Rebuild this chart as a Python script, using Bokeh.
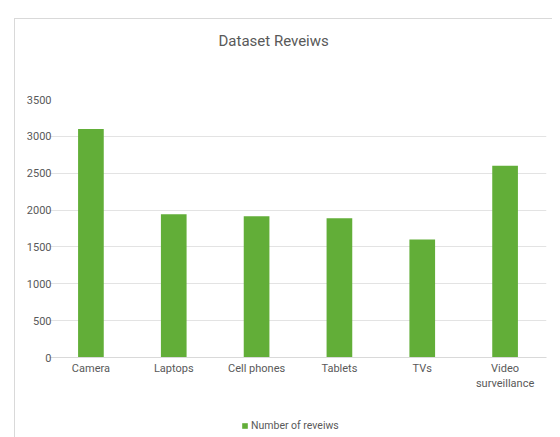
from bokeh.plotting import figure
from bokeh.layouts import column
from bokeh.models import ColumnDataSource, Legend, LegendItem, FactorRange, Title, Range1d
from bokeh.embed import file_html
from bokeh.resources import INLINE

categories = ["Camera", "Laptops", "Cell phones", "Tablets", "TVs", "Video\nsurveillance"]
reviews = [3100, 1945, 1915, 1890, 1600, 2600]
y_ticks = [0, 500, 1000, 1500, 2000, 2500, 3000, 3500]
series_name = "Number of reveiws"
title_text = "Dataset Reveiws"

GREEN = "#62ae38"
GRAY = "#595959"
FONT = "Roboto"
BORDER = "1px solid #d9d9d9"

source = ColumnDataSource(data=dict(cat=categories, val=reviews))
x_range = FactorRange(*categories, range_padding=0)

p = figure(x_range=x_range, y_range=(0, 3500),
           width=538, height=399, output_backend="svg", toolbar_location=None,
           min_border_left=34, min_border_right=7, min_border_top=80, min_border_bottom=61)
p.margin = (18, 0, 0, 14)
p.styles = {"border-left": BORDER, "border-top": BORDER}

r = p.vbar(x="cat", top="val", width=0.31, source=source, fill_color=GREEN, line_color=None)

# spacer between frame and title, then the title itself
p.add_layout(Title(text=" ", text_font_size="1px", standoff=47), "above")
p.add_layout(Title(text=title_text, align="left", offset=169, standoff=0,
                   text_font=FONT, text_font_size="15px", text_font_style="normal",
                   text_color=GRAY), "above")

p.outline_line_color = None
p.background_fill_color = "white"
p.border_fill_color = "white"

p.xgrid.grid_line_color = None
p.ygrid.grid_line_color = "#e3e3e3"
p.ygrid.ticker = y_ticks
p.yaxis.ticker = y_ticks

for ax in (p.xaxis[0], p.yaxis[0]):
    ax.major_tick_line_color = None
    ax.minor_tick_line_color = None
    ax.major_tick_in = 0
    ax.major_tick_out = 0
    ax.minor_tick_in = 0
    ax.minor_tick_out = 0
    ax.major_label_text_font = FONT
    ax.major_label_text_font_size = "11px"
    ax.major_label_text_color = GRAY
p.yaxis.axis_line_color = None
p.yaxis.major_label_standoff = -2
p.xaxis.axis_line_color = "#d9d9d9"
p.xaxis.major_label_standoff = 4

# legend strip below the chart (hidden copy of the bars, only its legend shows)
lf = figure(width=538, height=20, output_backend="svg", toolbar_location=None,
            x_range=x_range, y_range=Range1d(-2, -1),
            x_axis_location=None, y_axis_location=None,
            min_border_left=0, min_border_right=0, min_border_top=0, min_border_bottom=0)
lf.margin = (0, 0, 0, 14)
lf.styles = {"border-left": BORDER}
lf.grid.visible = False
lf.outline_line_color = None
lr = lf.vbar(x="cat", top="val", width=0.31, source=source, fill_color=GREEN, line_color=None)
lr.visible = False
legend = Legend(items=[LegendItem(label=series_name, renderers=[lr])],
                location=(192, 5), orientation="horizontal",
                padding=0, margin=0, spacing=0, inactive_fill_alpha=0,
                glyph_width=7, glyph_height=7, label_standoff=3, label_height=12,
                label_text_font=FONT, label_text_font_size="10.5px", label_text_color=GRAY,
                border_line_color=None, background_fill_alpha=0)
lf.add_layout(legend, "center")

layout = column(p, lf, spacing=0)
open("out.html", "w").write(file_html(layout, INLINE))
